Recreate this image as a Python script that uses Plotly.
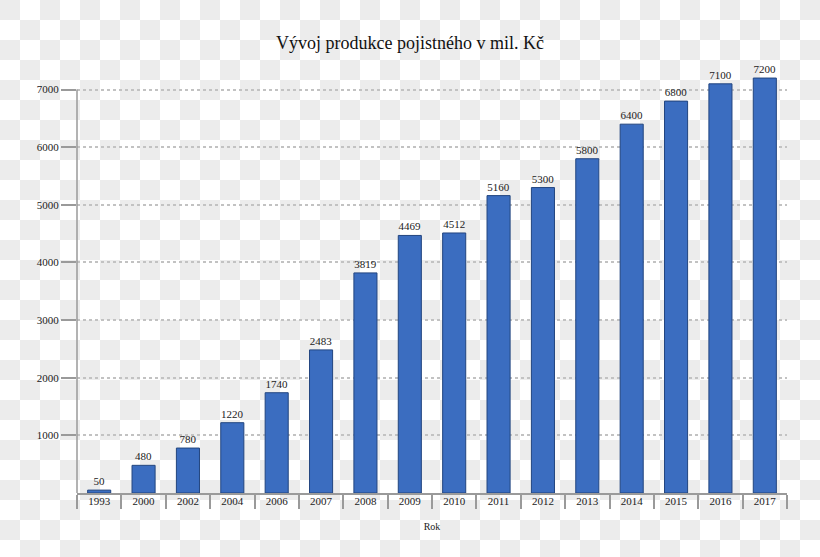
import base64, struct, zlib
import plotly.graph_objects as go

years = ["1993", "2000", "2002", "2004", "2006", "2007", "2008", "2009", "2010",
         "2011", "2012", "2013", "2014", "2015", "2016", "2017"]
values = [50, 480, 780, 1220, 1740, 2483, 3819, 4469, 4512, 5160, 5300, 5800,
          6400, 6800, 7100, 7200]
y_ticks = [1000, 2000, 3000, 4000, 5000, 6000, 7000]

W, H = 820, 557
L, R, T, B = 77, 33, 55, 64
FONT = "Liberation Serif"
AXIS_COLOR = "#9a9a9a"


def checker_png(w, h, cell=20):
    rows = []
    for yy in range(h):
        row = bytearray([0])
        for xx in range(w):
            g = ((xx // cell) + (yy // cell)) % 2 == 0
            v = 236 if g else 255
            row += bytes([v, v, v])
        rows.append(bytes(row))
    raw = b"".join(rows)

    def chunk(t, d):
        c = struct.pack(">I", len(d)) + t + d
        return c + struct.pack(">I", zlib.crc32(t + d) & 0xffffffff)

    png = b"\x89PNG\r\n\x1a\n"
    png += chunk(b"IHDR", struct.pack(">IIBBBBB", w, h, 8, 2, 0, 0, 0))
    png += chunk(b"IDAT", zlib.compress(raw, 9))
    png += chunk(b"IEND", b"")
    return "data:image/png;base64," + base64.b64encode(png).decode()


pw = W - L - R
ph = H - T - B

fig = go.Figure()
fig.add_trace(go.Bar(
    x=years, y=values,
    text=[str(v) for v in values], textposition="outside",
    textfont=dict(family=FONT, size=11, color="#222"),
    marker=dict(color="#3b6dc0", line=dict(color="#22457f", width=1)),
    width=0.52, cliponaxis=False,
))

# y-axis line running only from 0 up to the top tick, as in the original
fig.add_shape(type="line", xref="paper", yref="y", x0=0, x1=0,
              y0=0, y1=max(y_ticks), line=dict(color=AXIS_COLOR, width=1.5))

fig.update_layout(
    width=W, height=H,
    margin=dict(l=L, r=R, t=T, b=B),
    paper_bgcolor="rgba(0,0,0,0)", plot_bgcolor="rgba(0,0,0,0)",
    showlegend=False,
    title=dict(text="Vývoj produkce pojistného v mil. Kč", x=0.5, xanchor="center",
               y=1 - 43 / H, yanchor="middle",
               font=dict(family=FONT, size=18, color="#111")),
    images=[dict(source=checker_png(W, H), xref="paper", yref="paper",
                 x=-L / pw, y=1 + T / ph, sizex=W / pw, sizey=H / ph,
                 xanchor="left", yanchor="top", sizing="stretch", layer="below")],
    xaxis=dict(
        type="category", range=[-0.5, 15.5],
        showline=True, linecolor=AXIS_COLOR, linewidth=1.5,
        ticks="outside", tickson="boundaries", ticklen=14, tickcolor=AXIS_COLOR, tickwidth=1.5,
        ticklabelstandoff=-3,
        tickfont=dict(family=FONT, size=11, color="#222"),
        showgrid=False,
        title=dict(text="Rok", font=dict(family=FONT, size=10, color="#222"), standoff=17),
    ),
    yaxis=dict(
        range=[0, 7600], tickvals=y_ticks,
        showline=False,
        ticks="outside", ticklen=15, tickcolor=AXIS_COLOR, tickwidth=1.5,
        tickfont=dict(family=FONT, size=11, color="#222"),
        showgrid=True, gridcolor="#c2c2c2", gridwidth=1.5, griddash="dot",
        zeroline=False,
    ),
)

fig.write_html("out.html", config={"displayModeBar": False},
               post_script="document.body.style.margin='0px';")
